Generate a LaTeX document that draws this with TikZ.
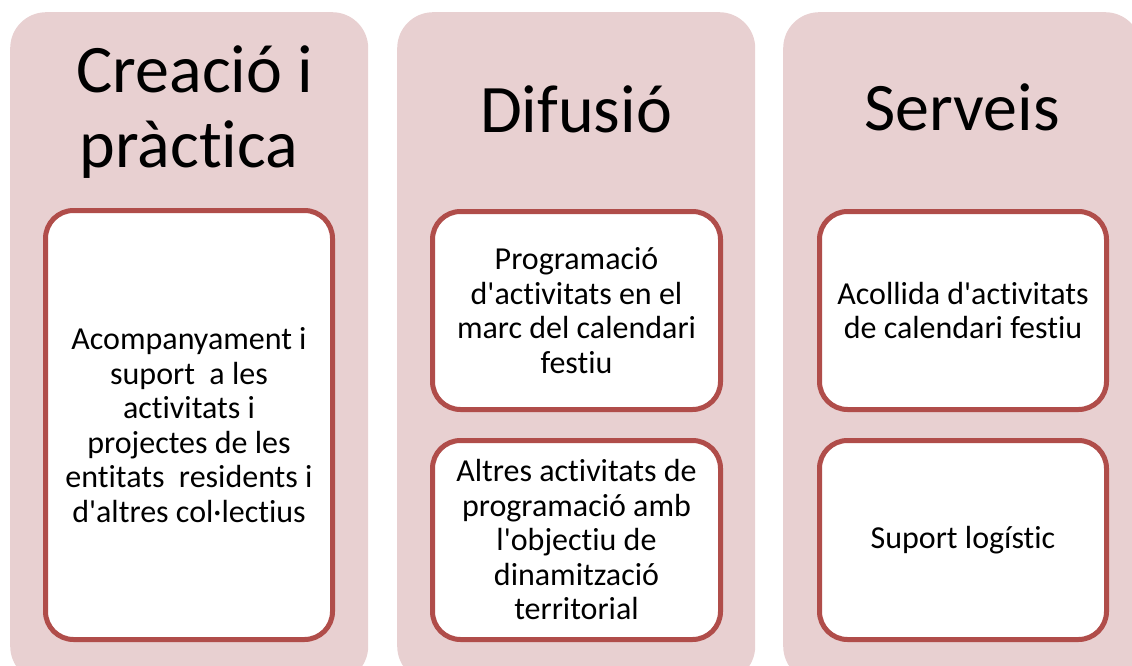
\documentclass[tikz,border=0pt]{standalone}
\usepackage{fontspec}
\setmainfont{Carlito}[Ligatures={TeXOff,CommonOff}]
\definecolor{colfill}{RGB}{232,208,209}
\definecolor{boxline}{RGB}{176,77,74}
\begin{document}
\begin{tikzpicture}[x=1pt,y=-1pt,
  column/.style={fill=colfill, rounded corners=36pt, minimum width=358pt, minimum height=670pt, inner sep=0pt, anchor=north west},
  item/.style={draw=boxline, line width=5pt, fill=white, rounded corners=28pt, align=center, font=\fontsize{32}{34.5}\selectfont, inner sep=0pt},
  title/.style={font=\fontsize{68}{75}\selectfont, align=center, inner sep=0pt}]
\useasboundingbox (0,0) rectangle (1132,666);
\node[column] (c1) at (10,12) {};
\node[column] (c2) at (397,12) {};
\node[column] (c3) at (783,12) {};
\node[title] (t1) at (189,112) {\hspace*{12pt}Creació i\\pràctica};
\node[title, anchor=base] (t2) at (576,133) {Difusió};
\node[title, anchor=base] (t3) at (962,131) {Serveis};
\node[item, minimum width=287pt, minimum height=429pt] (b1) at (189,425) {Acompanyament i\\suport\ \ a les\\activitats i\\projectes de les\\entitats\ \ residents i\\d'altres col·lectius};
\node[item, minimum width=288pt, minimum height=198pt] (b2) at (576.5,310.5) {Programació\\d'activitats en el\\marc del calendari\\festiu};
\node[item, minimum width=288pt, minimum height=199pt] (b3) at (576.5,540) {Altres activitats de\\programació amb\\l'objectiu de\\dinamització\\territorial};
\node[item, minimum width=287pt, minimum height=198pt] (b4) at (963,310.5) {Acollida d'activitats\\de calendari festiu};
\node[item, minimum width=287pt, minimum height=199pt] (b5) at (963,540) {Suport logístic};
\end{tikzpicture}
\end{document}
